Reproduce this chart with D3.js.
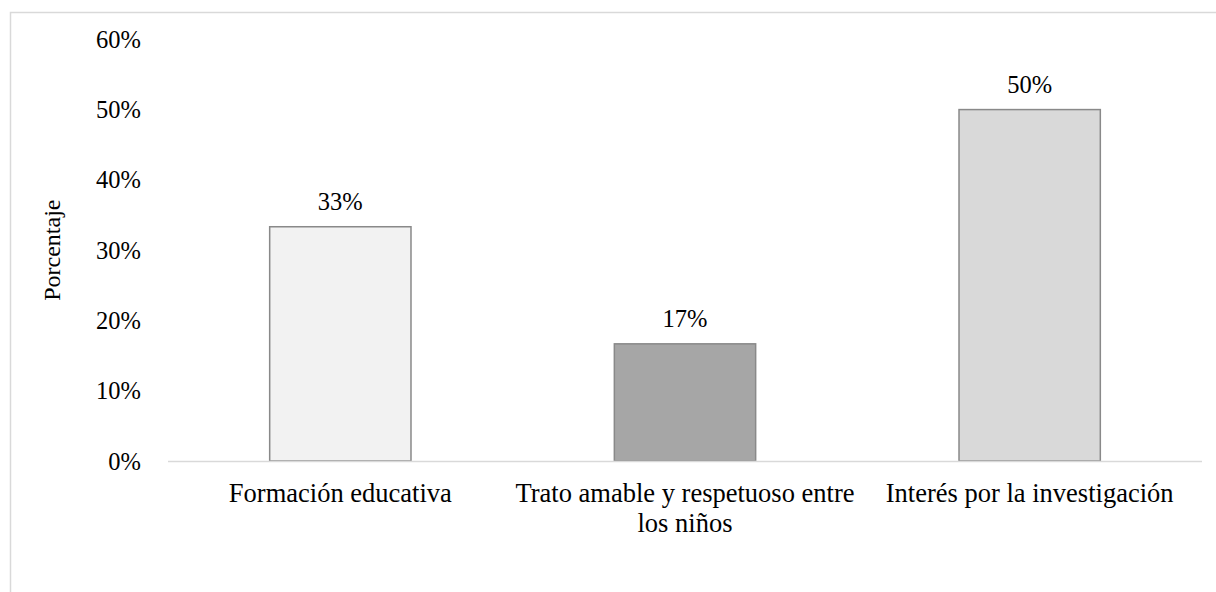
<!DOCTYPE html>
<html><head><meta charset="utf-8">
<script src="https://cdn.jsdelivr.net/npm/d3@7"></script>
<style>body{margin:0;background:#fff}svg{display:block}</style>
</head><body>
<svg id="c" width="1216" height="592"></svg>
<script>
const categories = [["Formación educativa"], ["Trato amable y respetuoso entre", "los niños"], ["Interés por la investigación"]];
const values = [0.3333, 0.1667, 0.50];
const valueLabels = ["33%", "17%", "50%"];
const barColors = ["#f2f2f2", "#a6a6a6", "#d9d9d9"];
const yTicks = [0, 0.1, 0.2, 0.3, 0.4, 0.5, 0.6];
const yTitle = "Porcentaje";

const svg = d3.select("#c");
const font = "Liberation Serif";
svg.append("rect").attr("x", 10.5).attr("y", 12.5).attr("width", 1216).attr("height", 600)
  .attr("fill", "#fff").attr("stroke", "#d9d9d9").attr("stroke-width", 1.5);

const x0 = 168, x1 = 1202, yTop = 39.3, yBot = 461;
const x = d3.scaleBand().domain(d3.range(categories.length)).range([x0, x1]).paddingInner(0.59).paddingOuter(0.295);
const y = d3.scaleLinear().domain([0, 0.6]).range([yBot, yTop]);

const yAxis = d3.axisLeft(y).tickValues(yTicks).tickFormat(d3.format(".0%")).tickSize(0).tickPadding(0);
const gy = svg.append("g").attr("transform", "translate(141,0)").call(yAxis);
gy.select(".domain").remove();
gy.selectAll("text").attr("font-family", font).attr("font-size", 24.5).attr("fill", "#000").attr("dy", "0.33em");

svg.append("text").attr("transform", `translate(60,${(yTop + yBot) / 2}) rotate(-90)`)
  .attr("text-anchor", "middle").attr("font-family", font).attr("font-size", 24).attr("fill", "#000").text(yTitle);

svg.selectAll("rect.bar").data(values).enter().append("rect").attr("class", "bar")
  .attr("x", (d, i) => x(i)).attr("width", x.bandwidth())
  .attr("y", d => y(d)).attr("height", d => yBot - y(d))
  .attr("fill", (d, i) => barColors[i]).attr("stroke", "#898989").attr("stroke-width", 1.5);

svg.append("line").attr("x1", x0).attr("x2", x1).attr("y1", yBot + 0.5).attr("y2", yBot + 0.5)
  .attr("stroke", "#d9d9d9").attr("stroke-width", 1.5);

svg.selectAll("text.vl").data(values).enter().append("text").attr("class", "vl")
  .attr("x", (d, i) => x(i) + x.bandwidth() / 2).attr("y", d => y(d) - 17)
  .attr("text-anchor", "middle").attr("font-family", font).attr("font-size", 24.5).attr("fill", "#000")
  .text((d, i) => valueLabels[i]);

const cl = svg.selectAll("text.cl").data(categories).enter().append("text").attr("class", "cl")
  .attr("text-anchor", "middle").attr("font-family", font).attr("font-size", 26.5).attr("fill", "#000");
cl.each(function(lines, i) {
  const t = d3.select(this);
  lines.forEach((ln, j) => {
    t.append("tspan").attr("x", x(i) + x.bandwidth() / 2).attr("y", 502 + j * 30).text(ln);
  });
});
</script>
</body></html>
